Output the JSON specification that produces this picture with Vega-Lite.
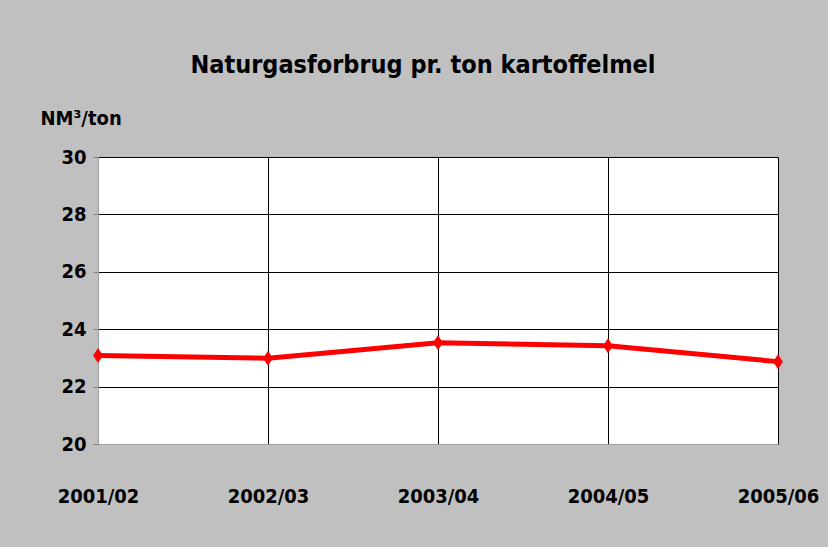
{
  "$schema": "https://vega.github.io/schema/vega-lite/v6.json",
  "width": 680,
  "height": 287,
  "autosize": "none",
  "padding": {"left": 98, "top": 157, "right": 50, "bottom": 103},
  "background": "#c0c0c0",
  "title": {
    "text": "Naturgasforbrug pr. ton kartoffelmel",
    "font": "DejaVu Sans Condensed",
    "fontSize": 25,
    "fontWeight": "bold",
    "color": "black",
    "anchor": "middle",
    "frame": "group",
    "dx": -15,
    "offset": 30
  },
  "data": {
    "values": [
      {"year": "2001/02", "value": 23.08},
      {"year": "2002/03", "value": 22.99},
      {"year": "2003/04", "value": 23.53},
      {"year": "2004/05", "value": 23.42},
      {"year": "2005/06", "value": 22.87}
    ]
  },
  "config": {
    "view": {"fill": "white", "stroke": null},
    "font": "DejaVu Sans Condensed"
  },
  "encoding": {
    "x": {
      "field": "year",
      "type": "ordinal",
      "scale": {"type": "point", "padding": 0},
      "axis": {
        "title": null,
        "labelAngle": 0,
        "ticks": false,
        "labelPadding": 42,
        "labelFontSize": 20,
        "labelFontWeight": "bold",
        "labelColor": "black",
        "labelFont": "DejaVu Sans Condensed",
        "domain": true,
        "domainColor": "#a0a0a0",
        "grid": true,
        "gridColor": "black",
        "gridOpacity": 1,
        "gridWidth": 1
      }
    },
    "y": {
      "field": "value",
      "type": "quantitative",
      "scale": {"domain": [20, 30], "nice": false, "zero": false},
      "axis": {
        "values": [20, 22, 24, 26, 28, 30],
        "title": "NM³/ton",
        "titleAngle": 0,
        "titleX": -58,
        "titleY": -39,
        "titleAlign": "left",
        "titleBaseline": "middle",
        "titleFontSize": 20,
        "titleFontWeight": "bold",
        "titleColor": "black",
        "titleFont": "DejaVu Sans Condensed",
        "labelFontSize": 20,
        "labelFontWeight": "bold",
        "labelColor": "black",
        "labelFont": "DejaVu Sans Condensed",
        "labelPadding": 7,
        "tickSize": 5,
        "tickColor": "#808080",
        "domainColor": "#a0a0a0",
        "gridColor": "black",
        "gridOpacity": 1,
        "gridWidth": 1
      }
    }
  },
  "layer": [
    {
      "mark": {"type": "line", "color": "#ff0000", "strokeWidth": 5, "clip": false}
    },
    {
      "mark": {
        "type": "point",
        "shape": "M0,-1L0.65,0L0,1L-0.65,0Z",
        "size": 225,
        "filled": true,
        "color": "#ff0000",
        "opacity": 1,
        "clip": false
      }
    }
  ]
}
